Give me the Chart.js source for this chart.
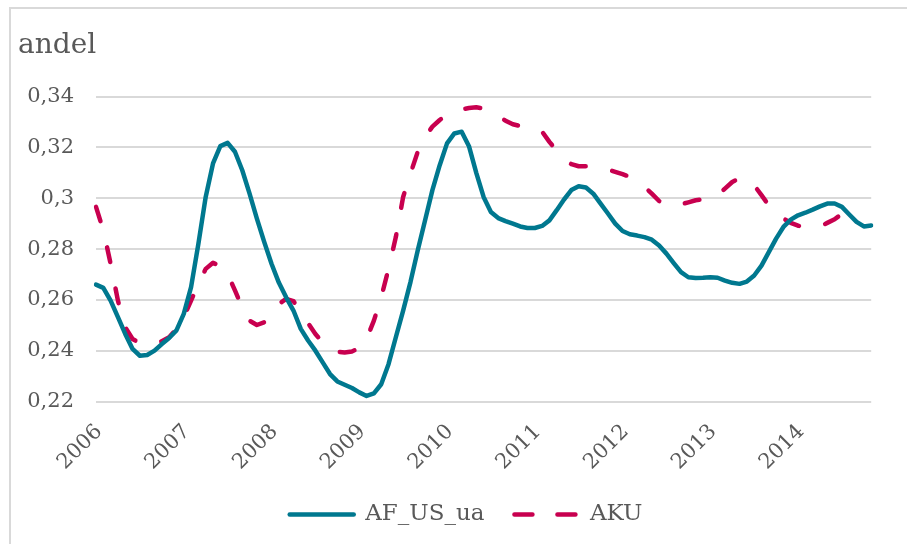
<!DOCTYPE html>
<html>
<head>
<meta charset="utf-8">
<script src="https://cdn.jsdelivr.net/npm/chart.js@4"></script>
<style>
  html, body { margin: 0; padding: 0; background: #fff; }
  #wrap { position: relative; width: 907px; height: 544px; overflow: hidden; }
  #frame { position: absolute; left: 9px; top: 7px; width: 940px; height: 580px;
           border-left: 2px solid #d9d9d9; border-top: 2px solid #d9d9d9; }
  canvas { position: absolute; left: 0; top: 0; }
</style>
</head>
<body>
<div id="wrap">
  <div id="frame"></div>
  <canvas id="chart" width="907" height="544"></canvas>
</div>
<script>
// år som vises på x-aksen (månedsdata, jan 2006 - nov 2014)
const years = ['2006', '2007', '2008', '2009', '2010', '2011', '2012', '2013', '2014'];

// andel, AF_US_ua (månedlig)
const afUsUa = [
  0.266, 0.2647, 0.2597, 0.2532, 0.2466, 0.2407, 0.238, 0.2383, 0.240, 0.2426, 0.245, 0.248,
  0.2545, 0.265, 0.282, 0.3005, 0.3137, 0.3205, 0.3218, 0.3183, 0.311, 0.3018, 0.292, 0.2828,
  0.2742, 0.2668, 0.261, 0.2558, 0.2486, 0.244, 0.240, 0.2354, 0.2308, 0.2279, 0.2266, 0.2253,
  0.2236, 0.2222, 0.2232, 0.2268, 0.2347, 0.2453, 0.2558, 0.267, 0.2795, 0.2913, 0.3032, 0.313,
  0.3216, 0.3255, 0.3262, 0.3205, 0.31, 0.3005, 0.2946, 0.2922, 0.291, 0.29, 0.2889, 0.2883,
  0.2883, 0.2891, 0.2913, 0.2953, 0.2995, 0.3032, 0.3047, 0.3042, 0.3018, 0.2979, 0.294, 0.29,
  0.2871, 0.2858, 0.2853, 0.2847, 0.2837, 0.2814, 0.2782, 0.2745, 0.2709, 0.2689, 0.2686, 0.2687,
  0.2689, 0.2687, 0.2676, 0.2667, 0.2663, 0.2672, 0.2696, 0.2735, 0.2788, 0.2841, 0.2887, 0.2916,
  0.2933, 0.2943, 0.2955, 0.2968, 0.2979, 0.2979, 0.2966, 0.2936, 0.2907, 0.2889, 0.2893
];

// andel, AKU (månedlig) - slutter litt før AF-serien
const aku = [
  0.2966, 0.2874, 0.2742, 0.2597, 0.2492, 0.2446, 0.243, 0.2426, 0.2428, 0.2437, 0.2453, 0.2486,
  0.2532, 0.2597, 0.2663, 0.2722, 0.2746, 0.2733, 0.2703, 0.2637, 0.2571, 0.2518, 0.2501, 0.2512,
  0.2545, 0.2584, 0.2604, 0.2595, 0.2555, 0.2508, 0.2466, 0.2433, 0.2407, 0.2396, 0.2393, 0.2397,
  0.241, 0.2446, 0.2518, 0.261, 0.2722, 0.2847, 0.3005, 0.3097, 0.3183, 0.3242, 0.3282, 0.3308,
  0.3328, 0.3343, 0.335, 0.3355, 0.3358, 0.3353, 0.3341, 0.3324, 0.3305, 0.3291, 0.3284, 0.3282,
  0.3278, 0.3262, 0.3222, 0.3187, 0.3154, 0.3134, 0.3126, 0.3126, 0.3125, 0.3121, 0.3113, 0.3104,
  0.3095, 0.3084, 0.3064, 0.3045, 0.3018, 0.2989, 0.2972, 0.2971, 0.2976, 0.2984, 0.2992, 0.2996,
  0.30, 0.301, 0.3038, 0.3064, 0.3079, 0.3076, 0.3051, 0.3012, 0.2972, 0.2942, 0.292, 0.2903,
  0.2892, 0.2886, 0.2884, 0.2889, 0.2903, 0.2917, 0.2939, 0.2959, 0.2976, null, null
];

// y-akse
const yMin = 0.22;
const yMax = 0.34;
const yStep = 0.02;

// kategorier: årstall på januar, tomt ellers
const labels = afUsUa.map((v, i) => (i % 12 === 0 ? years[i / 12] : ''));

const textColor = '#595959';
const serif = 'DejaVu Serif';

// flytter legenden litt mot høyre, som i originalen
const legendShift = {
  id: 'legendShift',
  afterLayout(chart) {
    chart.legend.left += 21;
    chart.legend.right += 21;
  }
};

// med usePointStyle henter Chart.js stil fra punktet, så strek/tykkelse settes her
function legendLabels(chart) {
  const items = Chart.defaults.plugins.legend.labels.generateLabels(chart);
  items.forEach((item) => {
    const ds = chart.data.datasets[item.datasetIndex];
    item.lineDash = ds.borderDash ? [18, 25] : [];
    item.lineWidth = ds.borderWidth;
    item.lineCap = 'round';
    item.strokeStyle = ds.borderColor;
    item.pointStyle = 'line';
  });
  return items;
}

const ctx = document.getElementById('chart').getContext('2d');

const chart = new Chart(ctx, {
  type: 'line',
  data: {
    labels: labels,
    datasets: [
      {
        label: 'AF_US_ua',
        data: afUsUa,
        borderColor: '#00788f',
        backgroundColor: '#00788f',
        borderWidth: 4.5,
        borderCapStyle: 'round',
        borderJoinStyle: 'round',
        pointRadius: 0,
        tension: 0
      },
      {
        label: 'AKU',
        data: aku,
        borderColor: '#c8004f',
        backgroundColor: '#c8004f',
        borderWidth: 4.5,
        borderDash: [15, 27],
        borderCapStyle: 'round',
        borderJoinStyle: 'round',
        pointRadius: 0,
        tension: 0
      }
    ]
  },
  options: {
    responsive: false,
    animation: false,
    layout: {
      padding: { left: 18, right: 35, top: 29, bottom: 8 }
    },
    plugins: {
      title: {
        display: true,
        text: 'andel',
        align: 'start',
        color: textColor,
        font: { family: serif, size: 28, weight: 'normal' },
        padding: { top: 0, bottom: 34 }
      },
      legend: {
        position: 'bottom',
        labels: {
          color: textColor,
          font: { family: serif, size: 23 },
          usePointStyle: true,
          pointStyle: 'line',
          pointStyleWidth: 64,
          padding: 30,
          generateLabels: legendLabels
        }
      },
      tooltip: { enabled: false }
    },
    scales: {
      x: {
        grid: { display: false, drawTicks: false },
        border: { display: false },
        ticks: {
          autoSkip: false,
          maxRotation: 45,
          minRotation: 45,
          padding: 18,
          labelOffset: 3,
          color: textColor,
          font: { family: serif, size: 21 }
        },
        afterFit: (s) => { s.height = 71.5; }
      },
      y: {
        min: yMin,
        max: yMax,
        grid: { color: '#d9d9d9', lineWidth: 2, drawTicks: false },
        border: { display: false },
        ticks: {
          stepSize: yStep,
          padding: 22,
          color: textColor,
          font: { family: serif, size: 21 },
          callback: (v) => String(Math.round(v * 100) / 100).replace('.', ',')
        },
        afterFit: (s) => { s.width = 78; }
      }
    }
  },
  plugins: [legendShift]
});
</script>
</body>
</html>
